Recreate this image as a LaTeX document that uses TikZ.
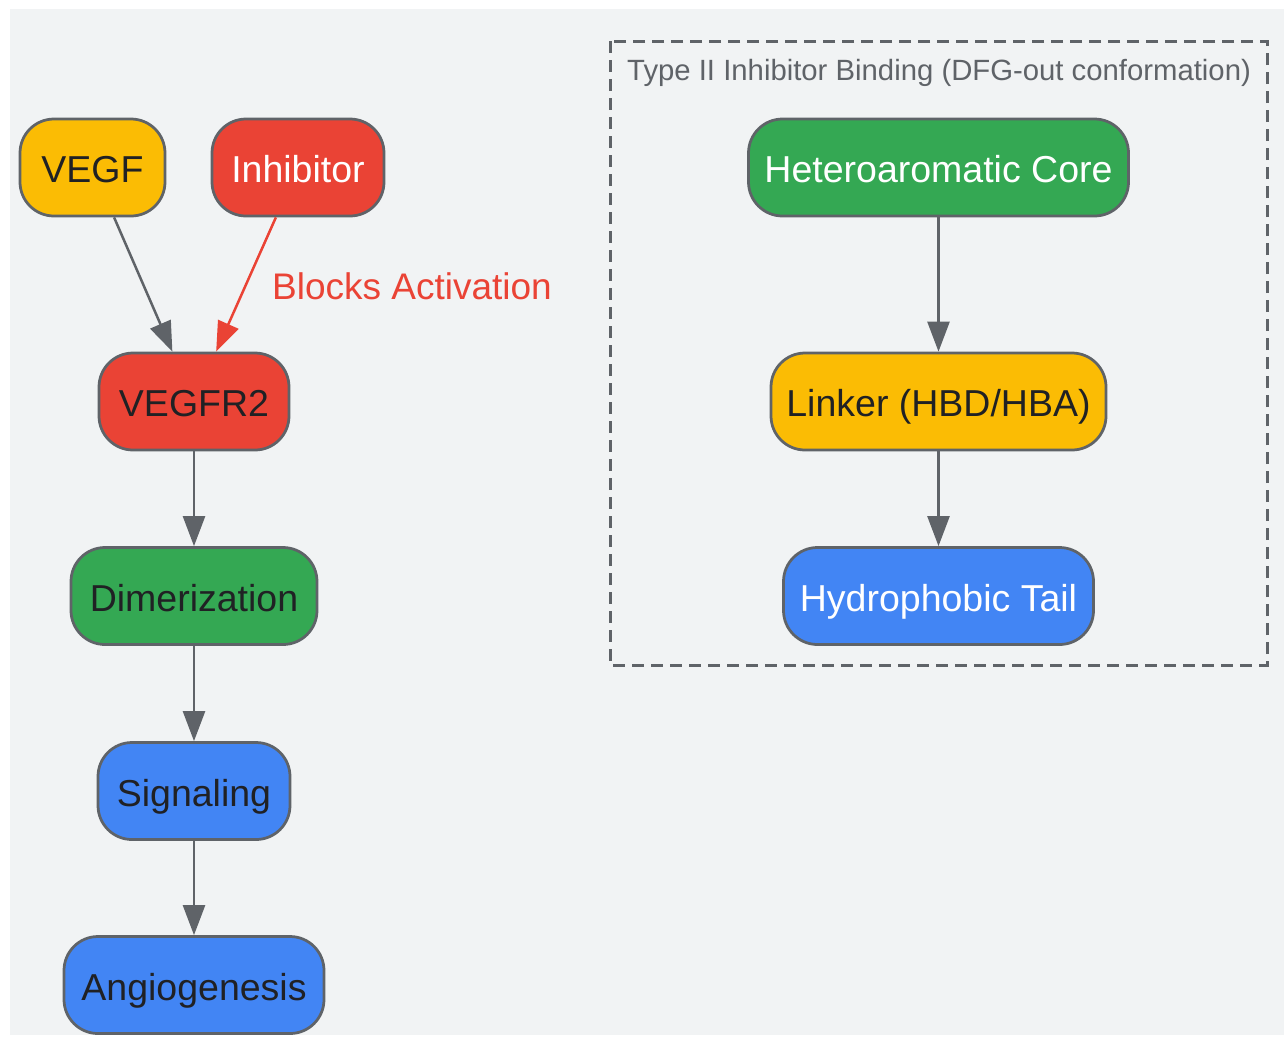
\documentclass[tikz,border=0pt]{standalone}
\usepackage{fontspec}
\setmainfont{Liberation Sans}
\usetikzlibrary{arrows.meta}
\definecolor{bg}{HTML}{F1F3F4}
\definecolor{gline}{HTML}{5F6368}
\definecolor{gyellow}{HTML}{FBBC04}
\definecolor{gred}{HTML}{EA4335}
\definecolor{ggreen}{HTML}{34A853}
\definecolor{gblue}{HTML}{4285F4}
\definecolor{gdark}{HTML}{202124}
\tikzset{
  box/.style={draw=gline, line width=2.75pt, rounded corners=34pt, inner sep=0pt,
    minimum height=97pt, text height=30pt, text depth=0pt,
    font=\fontsize{37.5}{45}\selectfont, align=center},
  darktext/.style={text=gdark},
  lighttext/.style={text=white},
  conn/.style={draw=gline, line width=2.5pt, -{Triangle[length=30pt,width=22pt]}},
  redconn/.style={draw=gred, line width=2.5pt, -{Triangle[length=30pt,width=22pt]}},
}
\begin{document}
\begin{tikzpicture}[x=1pt,y=-1pt]
\useasboundingbox (0,0) rectangle (1284,1037);
\fill[bg] (10,9) rectangle (1284,1035);
% cluster
\draw[gline, line width=3pt, dash pattern=on 12pt off 7pt] (610,41) rectangle (1267,665);
\node[anchor=base west, text=gline, inner sep=0pt, font=\fontsize{29.3}{35}\selectfont] (title) at (627,80) {Type II Inhibitor Binding (DFG-out conformation)};
% left flow
\node[box, fill=gyellow, darktext, minimum width=145pt] (vegf) at (92.5,167.5) {VEGF};
\node[box, fill=gred, lighttext, minimum width=172pt] (inh) at (298,167.5) {Inhibitor};
\node[box, fill=gred, darktext, minimum width=190pt] (vegfr) at (194,401.5) {VEGFR2};
\node[box, fill=ggreen, darktext, minimum width=246pt] (dim) at (194,596) {Dimerization};
\node[box, fill=gblue, darktext, minimum width=192pt] (sig) at (194,791) {Signaling};
\node[box, fill=gblue, darktext, minimum width=260pt] (ang) at (194,985) {Angiogenesis};
% right flow
\node[box, fill=ggreen, lighttext, minimum width=380pt] (core) at (938.5,167.5) {Heteroaromatic Core};
\node[box, fill=gyellow, darktext, minimum width=335pt] (link) at (938.5,401.5) {Linker (HBD/HBA)};
\node[box, fill=gblue, lighttext, minimum width=310pt] (tail) at (938.5,596) {Hydrophobic Tail};
% connectors
\draw[conn] (vegf) -- (vegfr);
\draw[redconn] (inh) -- (vegfr);
\node[anchor=base west, text=gred, inner sep=0pt, font=\fontsize{37}{44}\selectfont] (blk) at (272,299) {Blocks Activation};
\draw[conn] (vegfr) -- (dim);
\draw[conn] (dim) -- (sig);
\draw[conn] (sig) -- (ang);
\draw[conn] (core) -- (link);
\draw[conn] (link) -- (tail);
\end{tikzpicture}
\end{document}
